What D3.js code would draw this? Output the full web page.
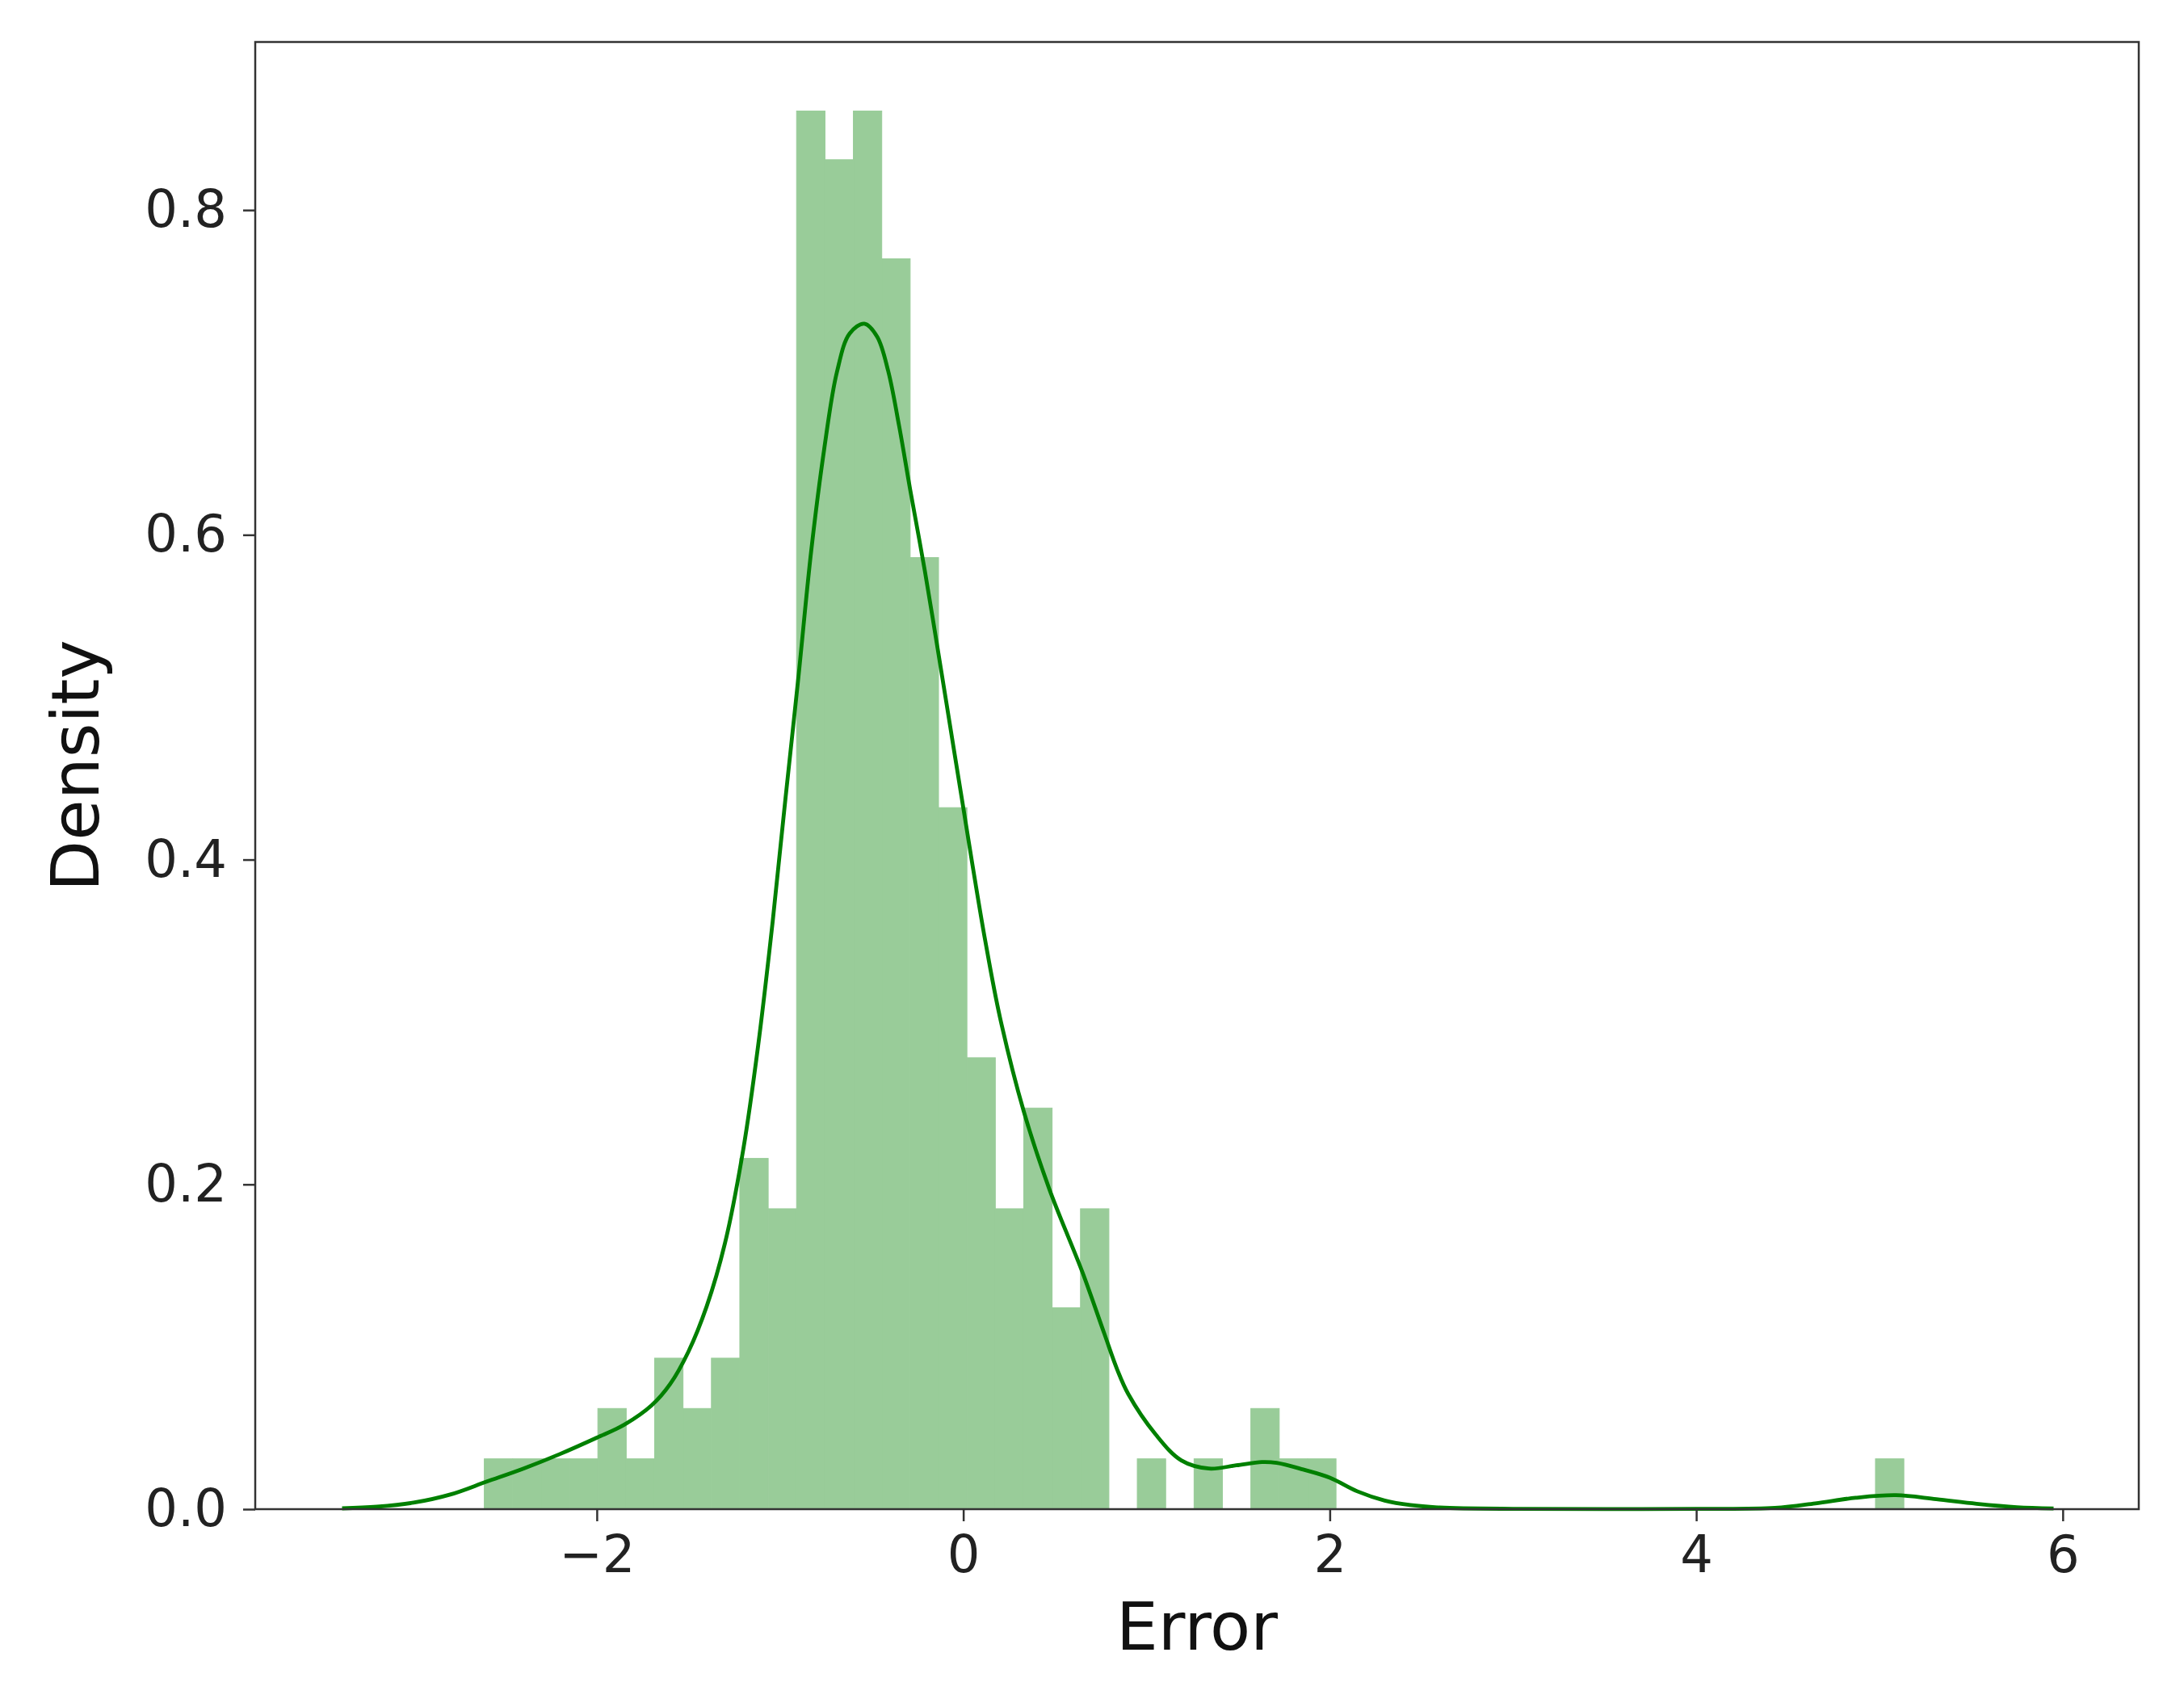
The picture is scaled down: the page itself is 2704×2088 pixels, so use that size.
<!doctype html>
<html lang="en">
<head>
    <meta http-equiv="content-type" content="text/html; charset=utf-8" />
    <title>Error density</title>
    <style>
        body { margin: 0; background: #fff; }
        #chart { display: block; font-family: "DejaVu Sans", sans-serif; }
    </style>
</head>
<body>
    <svg id="chart"></svg>

    <script src="https://cdn.jsdelivr.net/npm/d3@7/dist/d3.min.js"></script>
    <script>
        // histogram: 50 equal bins between binLo and binHi, density per bin
        const binLo = -2.614, binHi = 5.133;
        const binDensity = [
            0.031, 0.031, 0.031, 0.031, 0.062, 0.031, 0.093, 0.062, 0.093, 0.216,
            0.185, 0.861, 0.831, 0.861, 0.770, 0.586, 0.432, 0.278, 0.185, 0.247,
            0.124, 0.185, 0, 0.031, 0, 0.031, 0, 0.062, 0.031, 0.031,
            0, 0, 0, 0, 0, 0, 0, 0, 0, 0,
            0, 0, 0, 0, 0, 0, 0, 0, 0, 0.031
        ];

        // kde curve
        const kdeX = [-3.39, -3.2, -3.0, -2.8, -2.6, -2.4, -2.2, -2.0, -1.85, -1.7,
            -1.6, -1.5, -1.4, -1.3, -1.2, -1.12, -1.04, -0.97, -0.90, -0.83,
            -0.76, -0.69, -0.62, -0.54, -0.47, -0.41, -0.35, -0.29, -0.21, -0.14,
            -0.07, 0.0, 0.06, 0.12, 0.20, 0.33, 0.47, 0.65, 0.77, 0.84,
            0.90, 1.05, 1.19, 1.34, 1.49, 1.63, 1.71, 1.855, 2.0, 2.15,
            2.3, 2.44, 2.6, 3.0, 4.0, 4.43, 4.65, 4.87, 5.09, 5.31,
            5.53, 5.75, 5.95];
        const kdeY = [0.0005, 0.0015, 0.004, 0.009, 0.017, 0.025, 0.034, 0.044, 0.052, 0.064,
            0.077, 0.097, 0.125, 0.164, 0.222, 0.285, 0.362, 0.438, 0.512, 0.590,
            0.652, 0.700, 0.724, 0.730, 0.722, 0.701, 0.667, 0.628, 0.578, 0.530,
            0.481, 0.432, 0.390, 0.350, 0.303, 0.245, 0.197, 0.146, 0.108, 0.086,
            0.071, 0.046, 0.030, 0.025, 0.027, 0.029, 0.0285, 0.0244, 0.0194, 0.011,
            0.0053, 0.0025, 0.001, 0.0002, 0.0002, 0.0008, 0.0036, 0.007, 0.0086, 0.0061,
            0.0033, 0.0012, 0.0004];

        const xTicks = [-2, 0, 2, 4, 6];
        const yTicks = [0, 0.2, 0.4, 0.6, 0.8];
        const xLabel = "Error", yLabel = "Density";

        renderDensity("#chart");

        function renderDensity(container) {
            const width = 2704, height = 2088;
            const left = 316, right = 2648, top = 52, bottom = 1869;

            const svg = d3.select(container)
                .attr("width", width)
                .attr("height", height)
                .attr("viewBox", [0, 0, width, height]);

            const x = d3.scaleLinear().domain([-3.864, 6.415]).range([left, right]);
            const y = d3.scaleLinear().domain([0, 0.9035]).range([bottom, top]);

            const bw = (binHi - binLo) / binDensity.length;
            const bins = binDensity.map((d, i) => ({x0: binLo + i * bw, x1: binLo + (i + 1) * bw, d: d}));

            // same-colour stroke hides the seams between neighbouring bars
            svg.append("g")
                .attr("fill", "#99cc99")
                .attr("stroke", "#99cc99")
                .attr("stroke-width", 1)
                .selectAll("rect")
                .data(bins.filter(b => b.d > 0))
                .join("rect")
                .attr("x", b => x(b.x0))
                .attr("width", b => x(b.x1) - x(b.x0))
                .attr("y", b => y(b.d))
                .attr("height", b => y(0) - y(b.d));

            const line = d3.line()
                .x(i => x(kdeX[i]))
                .y(i => y(kdeY[i]))
                .curve(d3.curveCatmullRom.alpha(0.5));

            svg.append("path")
                .attr("fill", "none")
                .attr("stroke", "#008000")
                .attr("stroke-width", 4.8)
                .attr("stroke-linejoin", "round")
                .attr("d", line(d3.range(kdeX.length)));

            // frame
            svg.append("rect")
                .attr("x", left)
                .attr("y", top)
                .attr("width", right - left)
                .attr("height", bottom - top)
                .attr("fill", "none")
                .attr("stroke", "#333")
                .attr("stroke-width", 2.5);

            const xAxis = svg.append("g")
                .attr("transform", `translate(0,${bottom})`)
                .call(d3.axisBottom(x).tickValues(xTicks).tickSize(15).tickPadding(18));
            const yAxis = svg.append("g")
                .attr("transform", `translate(${left},0)`)
                .call(d3.axisLeft(y).tickValues(yTicks).tickFormat(d3.format(".1f")).tickSize(15).tickPadding(20));

            [xAxis, yAxis].forEach(a => {
                a.select(".domain").remove();
                a.selectAll(".tick line").attr("stroke", "#333").attr("stroke-width", 2.5);
                a.selectAll(".tick text")
                    .attr("fill", "#222")
                    .attr("font-family", "DejaVu Sans")
                    .attr("font-size", 64);
            });

            svg.append("text")
                .attr("x", (left + right) / 2)
                .attr("y", 2043)
                .attr("text-anchor", "middle")
                .attr("font-size", 82)
                .attr("fill", "#111")
                .text(xLabel);

            svg.append("text")
                .attr("transform", `translate(122,948) rotate(-90)`)
                .attr("text-anchor", "middle")
                .attr("font-size", 82)
                .attr("fill", "#111")
                .text(yLabel);
        }
    </script>
</body>
</html>
